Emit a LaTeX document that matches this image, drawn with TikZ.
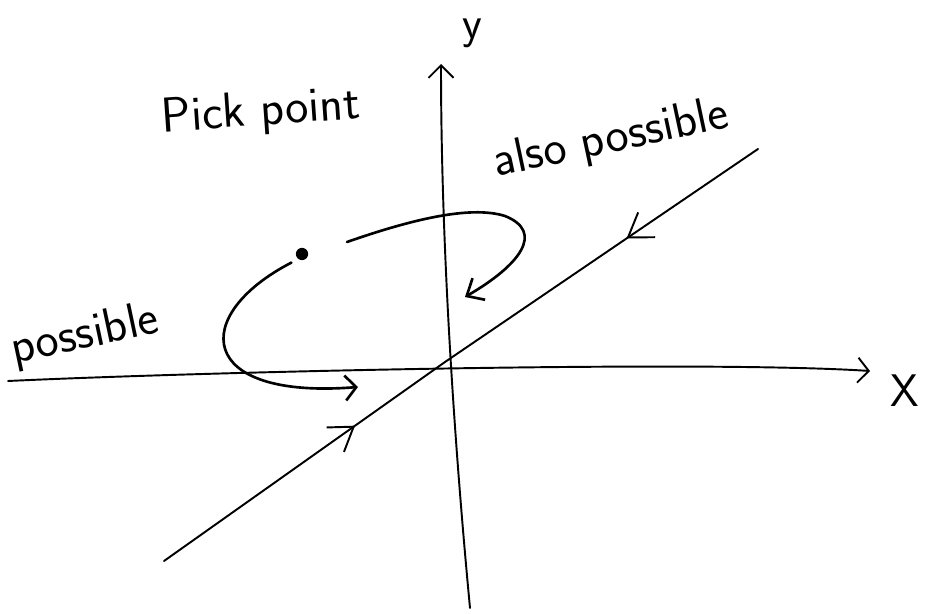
\documentclass[tikz,border=0pt]{standalone}
\usepackage{tikz}
\usetikzlibrary{arrows.meta,decorations.markings}

\begin{document}
\begin{tikzpicture}[
    x=0.02cm, y=-0.02cm,
    >={Straight Barb[length=4.5mm,width=6mm]},
    every node/.style={font=\sffamily},
    sketchline/.style={line width=1.1pt, line cap=round},
    moveline/.style={line width=1.5pt, line cap=round},
    midarrow/.style={decoration={markings, mark=at position #1 with {\arrow{>}}},
                     postaction={decorate}},
    handtext/.style={font=\sffamily\fontsize{28}{30}\selectfont},
]

% Page frame (keeps the margins)
\useasboundingbox (0,0) rectangle (926,614);

% ============================================================
% AXES
% ============================================================
\coordinate (O)    at (445,362);
\coordinate (xl)   at (8,381);
\coordinate (xr)   at (870,371);
\coordinate (yb)   at (470,608);
\coordinate (yt)   at (441,64);

\draw[sketchline, -{Straight Barb[length=2.2mm,width=5mm]}]
    (xl) .. controls (200,372) and (700,360) .. (xr);
\draw[sketchline, -{Straight Barb[length=2.5mm,width=5mm]}]
    (yb) .. controls (455,450) and (441,250) .. (yt);

\node[font=\sffamily\fontsize{26}{28}\selectfont] (xlab) at (905,391) {X};
\node[font=\sffamily\fontsize{26}{28}\selectfont] (ylab) at (472,33) {y};

% ============================================================
% DIAGONAL LINE (arrows towards the origin)
% ============================================================
\coordinate (dtop) at (758,149);
\coordinate (dbot) at (164,561);

\draw[sketchline, midarrow=0.42] (dtop) -- (O);
\draw[sketchline, midarrow=0.68] (dbot) -- (O);

% ============================================================
% PICKED POINT AND ITS TWO MOVES
% ============================================================
\node[circle, fill, inner sep=0pt, minimum size=7pt] (pick) at (302,254) {};

% move down round the left, back under the x axis
\coordinate (endA) at (358,387);
\draw[moveline, -{Straight Barb[length=2.2mm,width=5mm]}]
    (pick.south west) ++(-6,4) .. controls (190,315) and (195,400) .. (endA);

% move over the y axis and down towards the origin
\coordinate (startB) at (347,242);
\coordinate (topB)   at (505,216);
\coordinate (endB)   at (465,297);
\draw[moveline, -{Straight Barb[length=2.8mm,width=5mm]}]
    (startB) .. controls (410,220) and (470,205) .. (topB)
    .. controls (545,232) and (520,265) .. (endB);

% ============================================================
% LABELS
% ============================================================
\node[handtext, rotate=4]  (picklab) at (261,113) {Pick point};
\node[handtext, rotate=12] (alsolab) at (611,140) {also possible};
\node[handtext, rotate=12] (posslab) at (85,336)  {possible};

\end{tikzpicture}
\end{document}
